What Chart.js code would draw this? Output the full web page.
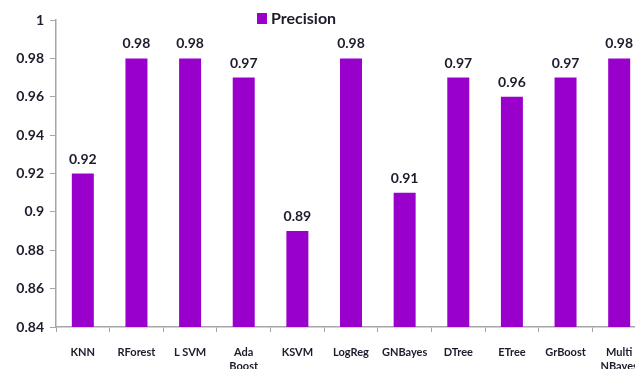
<!DOCTYPE html>
<html>
<head>
<meta charset="utf-8">
<script src="https://cdn.jsdelivr.net/npm/chart.js@4/dist/chart.umd.min.js"></script>
<style>
  html, body { margin: 0; padding: 0; background: #fff; overflow: hidden; }
  #wrap { width: 660px; height: 369px; position: relative; }
</style>
</head>
<body>
<div id="wrap"><canvas id="c"></canvas></div>
<script>
// Classifier names along the x axis (arrays give two-line labels)
const classifiers = ['KNN', 'RForest', 'L SVM', ['Ada', 'Boost'], 'KSVM', 'LogReg',
  'GNBayes', 'DTree', 'ETree', 'GrBoost', ['Multi', 'NBayes']];
// Precision score per classifier
const precision = [0.92, 0.98, 0.98, 0.97, 0.89, 0.98, 0.91, 0.97, 0.96, 0.97, 0.98];
// Value axis range and step
const yMin = 0.84;
const yMax = 1;
const yStep = 0.02;

const barColor = '#9900CC';
const textColor = '#1c1c2c';
const fontFamily = 'Lato, "Open Sans", "Liberation Sans", sans-serif';

// Writes each bar's value just above it
const valueLabels = {
  id: 'valueLabels',
  afterDatasetsDraw(chart) {
    const ctx = chart.ctx;
    const meta = chart.getDatasetMeta(0);
    ctx.save();
    ctx.font = 'bold 14px ' + fontFamily;
    ctx.fillStyle = textColor;
    ctx.textAlign = 'center';
    ctx.textBaseline = 'alphabetic';
    meta.data.forEach((bar, i) => {
      const v = chart.data.datasets[0].data[i];
      ctx.fillText(v.toFixed(2), bar.x, bar.y - 10);
    });
    ctx.restore();
  }
};

// Series key drawn at the top of the plot
const seriesKey = {
  id: 'seriesKey',
  afterDraw(chart) {
    const ctx = chart.ctx;
    const ds = chart.data.datasets[0];
    ctx.save();
    ctx.fillStyle = ds.backgroundColor;
    ctx.fillRect(257, 13, 10, 11);
    ctx.font = 'bold 16px ' + fontFamily;
    ctx.fillStyle = textColor;
    ctx.textAlign = 'left';
    ctx.textBaseline = 'middle';
    ctx.fillText(ds.label, 271, 19);
    ctx.restore();
  }
};

new Chart(document.getElementById('c'), {
  type: 'bar',
  data: {
    labels: classifiers,
    datasets: [{
      label: 'Precision',
      data: precision,
      backgroundColor: barColor,
      borderWidth: 0,
      categoryPercentage: 1,
      barPercentage: 0.41
    }]
  },
  options: {
    responsive: true,
    maintainAspectRatio: false,
    animation: false,
    layout: { padding: { top: 20, right: 14, left: 0, bottom: 0 } },
    plugins: {
      legend: { display: false },
      tooltip: { enabled: false }
    },
    scales: {
      x: {
        grid: {
          display: true,
          drawOnChartArea: false,
          drawTicks: true,
          tickLength: 5,
          color: '#a6a6a6',
          offset: true
        },
        border: { display: true, color: '#a6a6a6', width: 1.5 },
        ticks: {
          color: textColor,
          font: { family: fontFamily, size: 11, weight: 'bold', lineHeight: 1.3 },
          padding: 13,
          maxRotation: 0,
          autoSkip: false
        },
        afterFit(scale) { scale.height = 42; }
      },
      y: {
        min: yMin,
        max: yMax,
        grid: {
          display: true,
          drawOnChartArea: false,
          drawTicks: true,
          tickLength: 6,
          color: '#a6a6a6'
        },
        border: { display: true, color: '#a6a6a6', width: 1.5 },
        ticks: {
          stepSize: yStep,
          color: textColor,
          font: { family: fontFamily, size: 14, weight: 'bold' },
          padding: 6,
          callback: v => parseFloat(v.toFixed(2)).toString()
        },
        afterFit(scale) { scale.width = 56; }
      }
    }
  },
  plugins: [valueLabels, seriesKey]
});
</script>
</body>
</html>
